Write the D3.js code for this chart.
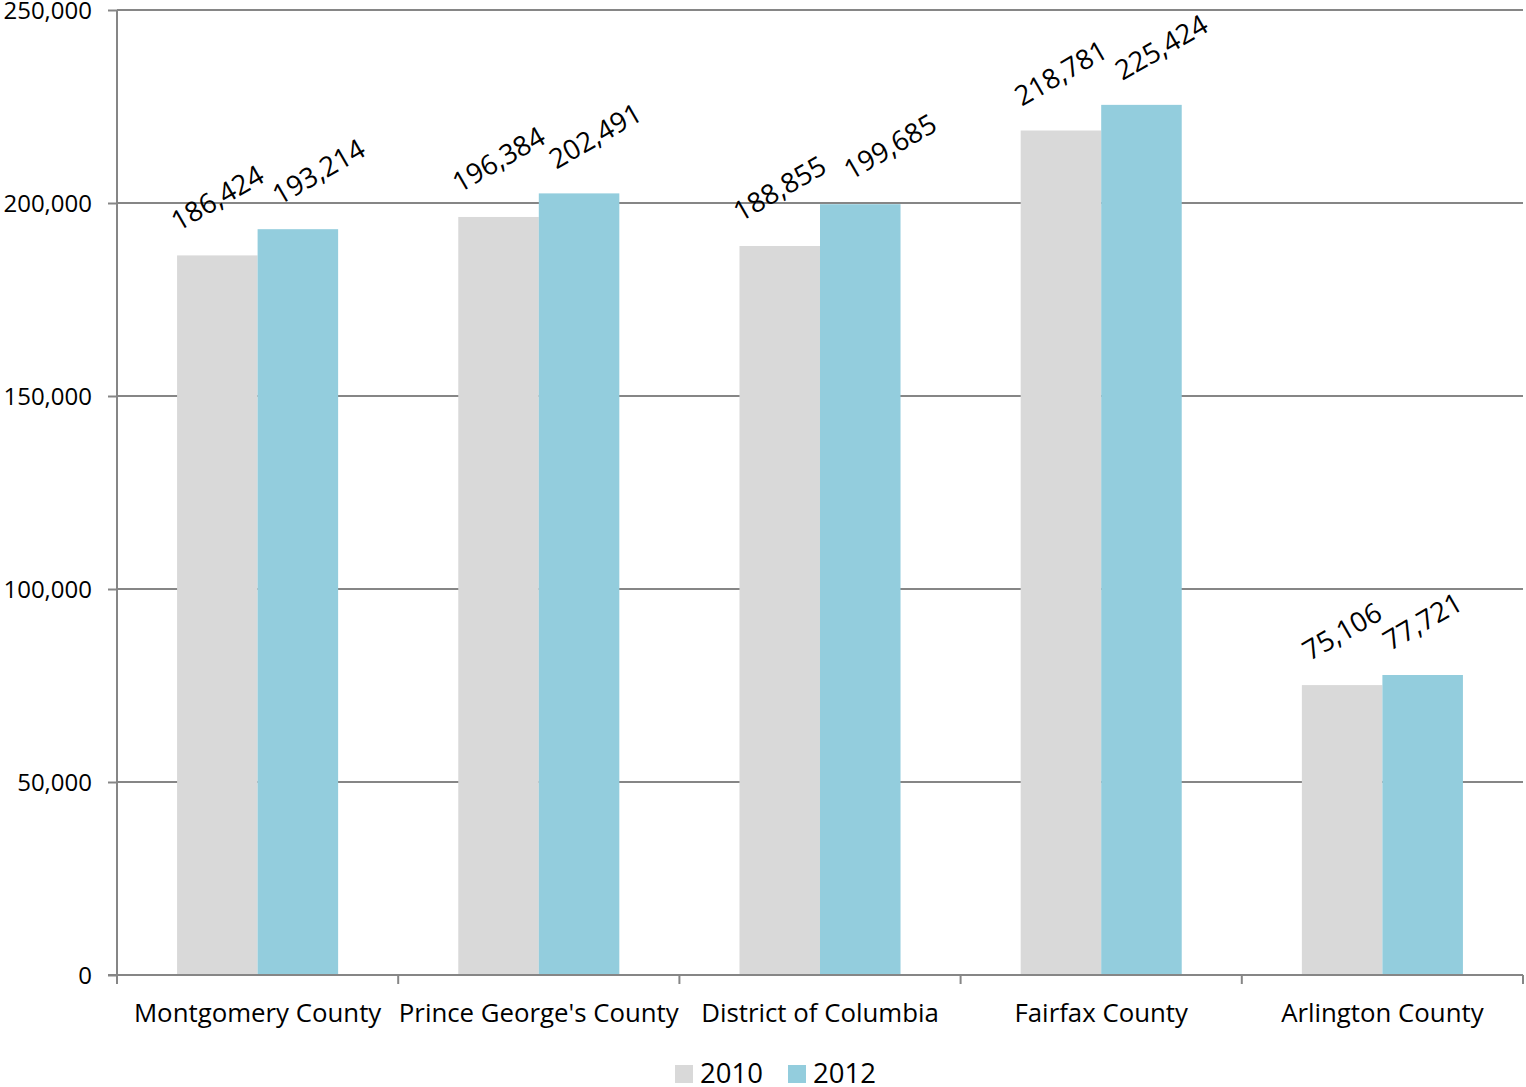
<!DOCTYPE html>
<html><head><meta charset="utf-8">
<script src="https://cdn.jsdelivr.net/npm/d3@7"></script>
<style>body{margin:0;background:#fff;} text{font-family:"Open Sans",sans-serif;fill:#000;}</style>
</head><body>
<svg id="c" width="1526" height="1087"></svg>
<script>
const categories = ["Montgomery County","Prince George's County","District of Columbia","Fairfax County","Arlington County"];
const seriesNames = ["2010","2012"];
const values2010 = [186424,196384,188855,218781,75106];
const values2012 = [193214,202491,199685,225424,77721];
const yTicks = [0,50000,100000,150000,200000,250000];
const colors = {"2010":"#D9D9D9","2012":"#93CDDD"};

const svg = d3.select("#c");
const L=117,R=1523,T=10,B=975;
const x = d3.scaleBand().domain(categories).range([L,R]).padding(0);
const x1 = d3.scaleBand().domain(seriesNames).range([0,x.bandwidth()]).paddingInner(0).paddingOuter(0.746);
const y = d3.scaleLinear().domain([0,250000]).range([B,T]);
const fmt = d3.format(",");
const axisCol="#868686";

svg.append("g").selectAll("line").data(yTicks.filter(d=>d>0)).join("line")
  .attr("x1",L).attr("x2",R).attr("y1",d=>y(d)).attr("y2",d=>y(d))
  .attr("stroke",axisCol).attr("stroke-width",2);

const data = categories.map((c,i)=>({cat:c, vals:[{s:"2010",v:values2010[i]},{s:"2012",v:values2012[i]}]}));

const g = svg.append("g").selectAll("g").data(data).join("g").attr("transform",d=>`translate(${x(d.cat)},0)`);
g.selectAll("rect").data(d=>d.vals).join("rect")
  .attr("x",d=>x1(d.s)).attr("width",x1.bandwidth())
  .attr("y",d=>y(d.v)).attr("height",d=>B-y(d.v))
  .attr("fill",d=>colors[d.s]);

const yAxis = d3.axisLeft(y).tickValues(yTicks).tickFormat(fmt).tickSize(9).tickPadding(16);
const ya = svg.append("g").attr("transform",`translate(${L},0)`).call(yAxis);
ya.select(".domain").attr("stroke",axisCol).attr("stroke-width",2).attr("d",`M0,${T}V${B}`);
ya.selectAll(".tick line").attr("stroke",axisCol).attr("stroke-width",2);
ya.selectAll(".tick text").style("font-size","24px").style("font-family","'Open Sans',sans-serif").attr("fill","#000").attr("dy","0.35em");

const xa = svg.append("g").attr("transform",`translate(0,${B})`);
xa.append("line").attr("x1",L-9).attr("x2",R).attr("y1",0).attr("y2",0).attr("stroke",axisCol).attr("stroke-width",2);
const bounds = categories.map(c=>x(c)).concat([R]);
xa.selectAll("line.t").data(bounds).join("line").attr("class","t")
  .attr("x1",d=>d).attr("x2",d=>d).attr("y1",0).attr("y2",9).attr("stroke",axisCol).attr("stroke-width",2);
xa.selectAll("text").data(categories).join("text")
  .attr("x",d=>x(d)+x.bandwidth()/2).attr("y",47).attr("text-anchor","middle")
  .style("font-size","25.8px").text(d=>d);

// data labels with simple collision avoidance along the rotated direction
const ang = 30, rad = ang*Math.PI/180;
const ux = Math.cos(rad), uy = -Math.sin(rad), vx = Math.sin(rad), vy = Math.cos(rad);
g.each(function(d){
  const gg = d3.select(this);
  const placed = [];
  d.vals.forEach(v=>{
    const t = gg.append("text").style("font-size","27.5px").attr("text-anchor","middle").attr("dy","0.35em").text(fmt(v.v));
    const W = t.node().getComputedTextLength();
    const h = 21;
    const bh = W*Math.sin(rad)+h*Math.cos(rad);
    let cx = x1(v.s)+x1.bandwidth()/2;
    const cy = y(v.v)-23-bh/2;
    placed.forEach(p=>{
      const dx = cx-p.cx, dy = cy-p.cy;
      const along = dx*ux+dy*uy, perp = dx*vx+dy*vy;
      const needAlong = (W+p.W)/2+15, needPerp = 28;
      if (along < needAlong && Math.abs(perp) < needPerp) {
        const sA = (needAlong-along)/ux;
        const sP = (needPerp-perp)/vx;
        cx += Math.min(sA, sP);
      }
    });
    placed.push({cx,cy,W});
    t.attr("transform",`translate(${cx},${cy}) rotate(${-ang})`);
  });
});

const lg = svg.append("g");
const leg = [{s:"2010",x:675},{s:"2012",x:788}];
leg.forEach(l=>{
  lg.append("rect").attr("x",l.x).attr("y",1065).attr("width",18).attr("height",18).attr("fill",colors[l.s]);
  lg.append("text").attr("x",l.x+25).attr("y",1073).attr("dy","0.35em").style("font-size","27.5px").text(l.s);
});
</script>
</body></html>
